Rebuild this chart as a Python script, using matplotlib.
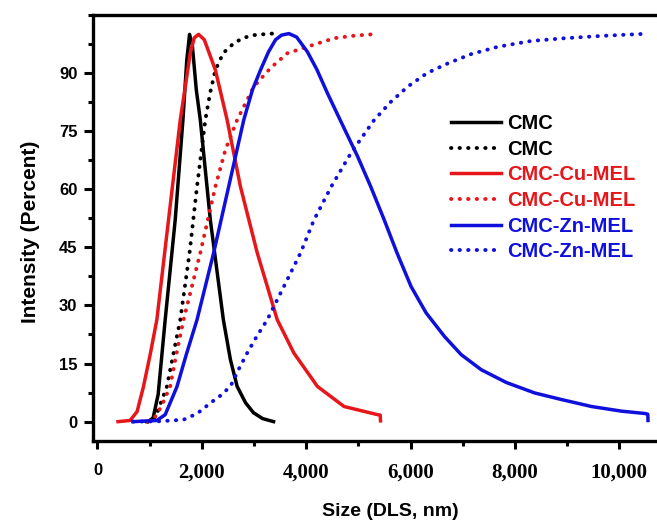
import matplotlib.pyplot as plt
from matplotlib.ticker import MultipleLocator
from matplotlib.font_manager import FontProperties

# Distribucion de tamano DLS (intensidad y acumulado) para CMC y complejos con Cu / Zn

# CMC
cmc_x = [971, 1067, 1163, 1298, 1490, 1638, 1712, 1765, 1817, 1894, 1971, 2163, 2413, 2548, 2677, 2837, 2990, 3163, 3375]
cmc_y = [0, 1, 7, 26.3, 52.1, 77.9, 93.4, 100, 97.3, 85.7, 77.9, 52.1, 26.3, 16.0, 9.1, 4.9, 2.3, 0.8, 0]
cmc_cum_x = [933, 1106, 1202, 1331, 1452, 1587, 1765, 1908, 2067, 2163, 2260, 2413, 2612, 2798, 2996, 3163, 3350]
cmc_cum_y = [0, 1, 4.4, 9.1, 17.3, 26.3, 43.6, 60.7, 77.9, 85.1, 90.8, 95.2, 97.7, 99.1, 99.8, 100, 100.2]

# CMC-Cu-MEL
cu_x = [394, 625, 760, 881, 1010, 1138, 1362, 1587, 1702, 1779, 1856, 1938, 2048, 2260, 2485, 2740, 3062,
        3446, 3765, 4215, 4727, 5369, 5419, 5425]
cu_y = [0, 0.3, 2.6, 9.0, 17.3, 26.3, 52.1, 77.9, 88.2, 95.2, 99.1, 100, 98.6, 90.8, 77.9, 60.7, 43.6,
        26.3, 17.7, 9.1, 3.9, 1.8, 1.7, 0.2]
cu_cum_x = [971, 1125, 1240, 1394, 1510, 1650, 1817, 1971, 2260, 2452, 2677, 2996, 3317, 3638, 4023, 4535, 4952, 5369]
cu_cum_y = [0, 1.5, 4.4, 9.1, 17.3, 26.3, 35.3, 43.6, 60.7, 70.2, 77.9, 86.5, 91.3, 95.1, 96.8, 99.0, 99.7, 100.1]

# CMC-Zn-MEL
zn_x = [683, 1138, 1298, 1523, 1702, 1908, 2227, 2515, 2804, 2971, 3125, 3279, 3413, 3529, 3669, 3817, 4023,
        4202, 4408, 4683, 4985, 5240, 5496, 5740, 6010, 6298, 6650, 6971, 7356, 7837, 8381, 8894, 9471,
        10048, 10496, 10548, 10552]
zn_y = [0, 0.3, 1.8, 9.0, 17.3, 26.3, 43.6, 60.7, 77.9, 85.7, 90.8, 95.5, 98.6, 99.8, 100.2, 99.3, 95.5,
        91.0, 84.8, 77.0, 68.5, 60.6, 52.1, 43.6, 34.9, 28.1, 22.0, 17.3, 13.4, 10.1, 7.4, 5.7, 3.9,
        2.7, 2.1, 1.9, 0.3]
zn_cum_x = [683, 1202, 1650, 1913, 2163, 2356, 2548, 2702, 2869, 3048, 3254, 3573, 3894, 4150, 4490, 4856,
            5304, 5625, 5946, 6317, 6715, 7163, 7677, 8317, 8958, 9663, 10433]
zn_cum_y = [0, 0.1, 0.5, 2.1, 4.8, 6.7, 9.1, 13.4, 17.7, 21.9, 26.3, 34.9, 43.6, 52.1, 60.9, 69.3,
            77.9, 82.6, 86.5, 90.0, 92.5, 94.9, 96.8, 98.3, 99.0, 99.6, 100.1]

xtick_vals = [0, 2000, 4000, 6000, 8000, 10000]
xtick_labels = ['0', '2,000', '4,000', '6,000', '8,000', '10,000']
ytick_vals = [0, 15, 30, 45, 60, 75, 90]

negro = '#000000'
rojo = '#e6161b'
azul = '#1010dc'
dots = (0, (0.1, 2.1))

sans = FontProperties(family='Liberation Sans', weight='bold', size=12)
serif = FontProperties(family='Liberation Serif', weight='bold', size=15)

fig = plt.figure(figsize=(6.57, 5.24), dpi=100)
ax = fig.add_axes([0.142, 0.1584, 0.8656, 0.813])

ax.plot(cmc_x, cmc_y, color=negro, lw=2.5, label='CMC')
ax.plot(cmc_cum_x, cmc_cum_y, color=negro, lw=2.8, ls=dots, dash_capstyle='round', label='CMC')
ax.plot(cu_x, cu_y, color=rojo, lw=2.5, label='CMC-Cu-MEL')
ax.plot(cu_cum_x, cu_cum_y, color=rojo, lw=2.8, ls=dots, dash_capstyle='round', label='CMC-Cu-MEL')
ax.plot(zn_x, zn_y, color=azul, lw=2.5, label='CMC-Zn-MEL')
ax.plot(zn_cum_x, zn_cum_y, color=azul, lw=2.8, ls=dots, dash_capstyle='round', label='CMC-Zn-MEL')

ax.set_xlim(-80, 10820)
ax.set_ylim(-5, 105)

for s in ['left', 'bottom', 'top']:
    ax.spines[s].set_linewidth(2.4)
ax.spines['right'].set_visible(False)

ax.set_xticks(xtick_vals, xtick_labels)
ax.xaxis.set_minor_locator(MultipleLocator(1000))
ax.set_yticks(ytick_vals)
ax.yaxis.set_minor_locator(MultipleLocator(7.5))
ax.tick_params(axis='both', which='major', direction='out', width=2.2)
ax.tick_params(axis='both', which='minor', direction='out', width=2.2, length=3.5)
ax.tick_params(axis='x', which='major', length=5.5, pad=10)
ax.tick_params(axis='y', which='major', length=6.5, pad=5)

for lbl in ax.get_xticklabels():
    lbl.set_fontproperties(sans if lbl.get_text() == '0' else serif)
for lbl in ax.get_yticklabels():
    lbl.set_fontproperties(sans)

ax.set_xlabel('Size (DLS, nm)', fontproperties=FontProperties(family='Liberation Sans', weight='bold', size=14))
ax.xaxis.set_label_coords((390 - 93.3) / (662 - 93.3), -(503 - 441) / 426)
ax.set_ylabel('Intensity (Percent)', fontproperties=FontProperties(family='Liberation Sans', weight='bold', size=15))
ax.yaxis.set_label_coords(-(93.3 - 40) / 568.7, (441 - 232) / 426)

ax.legend(loc='upper left', bbox_to_anchor=(451 / 657, 1 - 114 / 524), bbox_transform=fig.transFigure,
          frameon=False, borderpad=0, borderaxespad=0, handlelength=2.5, handletextpad=0.3, labelspacing=0.33,
          prop=FontProperties(family='Liberation Sans', weight='bold', size=14.5), labelcolor='linecolor')

fig.savefig('out.png', dpi=100)
